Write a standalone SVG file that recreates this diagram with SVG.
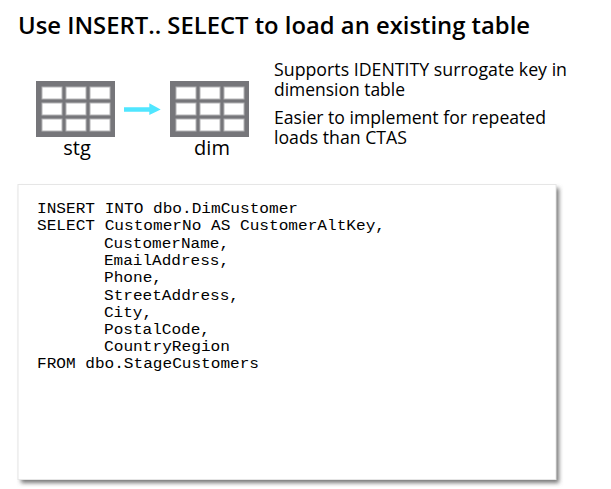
<svg xmlns="http://www.w3.org/2000/svg" width="611" height="489" viewBox="0 0 611 489">
<style>
.t{font-family:"Open Sans","Noto Sans","Liberation Sans",sans-serif;fill:#000}
.h{font-size:24px;font-weight:600}
.b{font-size:18px}
.l{font-size:20px}
.c{font-family:"Liberation Mono","Courier New",monospace;font-size:14px;fill:#000}
.f{fill:#76767a}
.w{fill:#fff;stroke:#b4b4b6;stroke-width:1}
</style>
<defs>
<filter id="s" x="-5%" y="-5%" width="110%" height="110%"><feGaussianBlur stdDeviation="2"/></filter>
<g id="grid">
<rect class="f" width="79" height="56"/>
<rect class="w" x="6" y="6" width="20" height="12"/><rect class="w" x="30" y="6" width="20" height="12"/><rect class="w" x="54" y="6" width="20" height="12"/>
<rect class="w" x="6" y="22" width="20" height="12"/><rect class="w" x="30" y="22" width="20" height="12"/><rect class="w" x="54" y="22" width="20" height="12"/>
<rect class="w" x="6" y="38" width="20" height="12"/><rect class="w" x="30" y="38" width="20" height="12"/><rect class="w" x="54" y="38" width="20" height="12"/>
</g>
</defs>
<rect width="611" height="489" fill="#fff"/>
<text id="title" class="t h" x="18" y="34" textLength="512" lengthAdjust="spacingAndGlyphs">Use INSERT.. SELECT to load an existing table</text>
<g id="stg"><use href="#grid" x="36" y="81"/><text class="t l" x="77" y="155" text-anchor="middle">stg</text></g>
<g id="dim"><use href="#grid" x="170" y="81"/><text class="t l" x="212" y="155" text-anchor="middle">dim</text></g>
<g id="connectors"><path d="M124 107.300H149.300V103.300L160.700 109.500L149.300 115V111.700H124Z" fill="#50e6ff"/></g>
<g id="notes">
<text class="t b"><tspan x="274" y="75.500" textLength="293" lengthAdjust="spacingAndGlyphs">Supports IDENTITY surrogate key in</tspan><tspan x="274" y="96" textLength="131" lengthAdjust="spacingAndGlyphs">dimension table</tspan></text>
<text class="t b"><tspan x="274" y="123.500" textLength="272" lengthAdjust="spacingAndGlyphs">Easier to implement for repeated</tspan><tspan x="274" y="143.500" textLength="133" lengthAdjust="spacingAndGlyphs">loads than CTAS</tspan></text>
</g>
<g id="code">
<rect x="21" y="188" width="538" height="295" fill="#777" filter="url(#s)"/>
<rect x="18" y="184.500" width="538" height="295" fill="#fff" stroke="#e6e6e6"/>
<g class="c">
<text x="37" y="213" textLength="261" lengthAdjust="spacingAndGlyphs">INSERT INTO dbo.DimCustomer</text>
<text x="37" y="230" textLength="348" lengthAdjust="spacingAndGlyphs">SELECT CustomerNo AS CustomerAltKey,</text>
<text x="104" y="247.500" textLength="125" lengthAdjust="spacingAndGlyphs">CustomerName,</text>
<text x="104" y="265" textLength="125" lengthAdjust="spacingAndGlyphs">EmailAddress,</text>
<text x="104" y="282" textLength="58" lengthAdjust="spacingAndGlyphs">Phone,</text>
<text x="104" y="299.500" textLength="135" lengthAdjust="spacingAndGlyphs">StreetAddress,</text>
<text x="104" y="316.500" textLength="48" lengthAdjust="spacingAndGlyphs">City,</text>
<text x="104" y="334" textLength="106" lengthAdjust="spacingAndGlyphs">PostalCode,</text>
<text x="104" y="351" textLength="126" lengthAdjust="spacingAndGlyphs">CountryRegion</text>
<text x="37" y="368" textLength="222" lengthAdjust="spacingAndGlyphs">FROM dbo.StageCustomers</text>
</g>
</g>
</svg>
